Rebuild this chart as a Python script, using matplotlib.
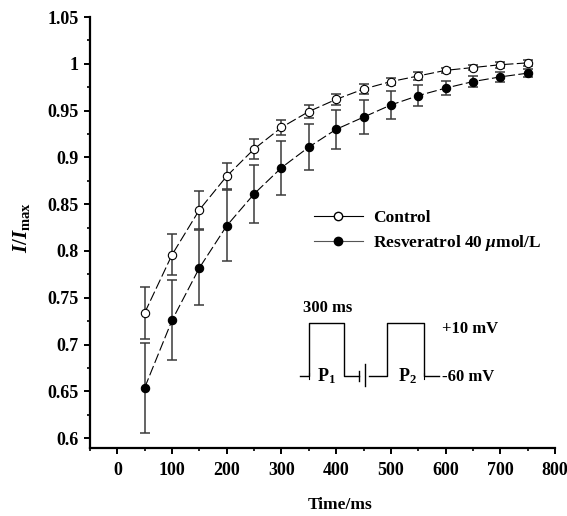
import matplotlib
matplotlib.use("Agg")
import matplotlib.pyplot as plt
from matplotlib.ticker import MultipleLocator

time_ms = [50, 100, 150, 200, 250, 300, 350, 400, 450, 500, 550, 600, 650, 700, 750]
control = [0.734, 0.796, 0.844, 0.880, 0.909, 0.932, 0.949, 0.962, 0.973, 0.981, 0.987, 0.993, 0.996, 0.999, 1.001]
control_err = [0.028, 0.022, 0.020, 0.014, 0.011, 0.008, 0.007, 0.006, 0.005, 0.004, 0.004, 0.003, 0.003, 0.003, 0.003]
resv = [0.654, 0.726, 0.782, 0.827, 0.861, 0.889, 0.911, 0.930, 0.943, 0.956, 0.966, 0.974, 0.981, 0.986, 0.990]
resv_err = [0.048, 0.043, 0.040, 0.038, 0.031, 0.029, 0.025, 0.021, 0.018, 0.015, 0.011, 0.0075, 0.006, 0.005, 0.004]
xticks = [0, 100, 200, 300, 400, 500, 600, 700, 800]
yticks = [0.6, 0.65, 0.7, 0.75, 0.8, 0.85, 0.9, 0.95, 1.0, 1.05]
ytick_labels = ["0.6", "0.65", "0.7", "0.75", "0.8", "0.85", "0.9", "0.95", "1", "1.05"]

plt.rcParams['font.family'] = ['Liberation Serif', 'DejaVu Serif']
plt.rcParams['font.weight'] = 'bold'
plt.rcParams['mathtext.fontset'] = 'custom'
plt.rcParams['mathtext.rm'] = 'Liberation Serif:bold'
plt.rcParams['mathtext.it'] = 'Liberation Serif:bold:italic'

W, H = 567, 516
fig = plt.figure(figsize=(W / 100, H / 100), dpi=100)
ax = fig.add_axes([90 / W, 1 - 448 / H, 465 / W, 431 / H])

ax.errorbar(time_ms, control, yerr=control_err, fmt='none', ecolor='#3a3a3a',
            elinewidth=1.1, capsize=3.5, capthick=1.1, zorder=2)
ax.errorbar(time_ms, resv, yerr=resv_err, fmt='none', ecolor='#3a3a3a',
            elinewidth=1.1, capsize=3.5, capthick=1.1, zorder=2)
ax.plot(time_ms, control, color='black', lw=0.8, dashes=(9, 3), zorder=3)
ax.plot(time_ms, resv, color='black', lw=0.8, dashes=(9, 3), zorder=3)
ax.plot(time_ms, control, 'o', ls='none', mfc='white', mec='black', mew=0.8, ms=6, zorder=4)
ax.plot(time_ms, resv, 'o', ls='none', mfc='black', mec='black', mew=0.8, ms=6, zorder=4)

# legend (solid lines)
h1, = ax.plot([], [], '-o', color='black', lw=0.8, mfc='white', mec='black', ms=6)
h2, = ax.plot([], [], '-o', color='#555555', lw=0.8, mfc='black', mec='black', ms=6)
ax.legend([h1, h2], ['Control', 'Resveratrol 40 $\\mu$mol/L'], frameon=False,
          loc='upper left', bbox_to_anchor=(314 / W, 1 - 210 / H),
          bbox_transform=fig.transFigure, handlelength=2.8, handletextpad=0.6,
          labelspacing=0.4, prop={'family': 'Liberation Serif', 'weight': 'bold', 'size': 12.5},
          borderaxespad=0, borderpad=0)

ax.set_xlim(-50, 800)
ax.set_ylim(0.5895, 1.05)
ax.set_xticks(xticks)
ax.set_yticks(yticks)
ax.set_yticklabels(ytick_labels)
ax.xaxis.set_minor_locator(MultipleLocator(50))
ax.yaxis.set_minor_locator(MultipleLocator(0.025))
for s in ['top', 'right']:
    ax.spines[s].set_visible(False)
for s in ['left', 'bottom']:
    ax.spines[s].set_linewidth(1.6)
ax.tick_params(which='major', direction='out', length=4, width=1.4, labelsize=13)
ax.tick_params(which='minor', direction='out', length=2.5, width=1.2)
ax.tick_params(axis='x', pad=6)
ax.tick_params(axis='y', pad=4)
for lab in ax.get_xticklabels() + ax.get_yticklabels():
    lab.set_fontweight('bold')

ax.set_xlabel('Time/ms', fontsize=12.5, fontweight='bold')
ax.xaxis.set_label_coords((340 - 90) / 465, -(505 - 448) / 431)
ax.xaxis.label.set_va('center')
fig.text(22 / W, 1 - 228 / H, '$I/I_{\\mathrm{max}}$', rotation=90, ha='center', va='center',
         fontsize=15)

# inset: pulse protocol drawn in figure pixel space
def P(px, py):
    return (px / W, 1 - py / H)

def seg(pts, lw=1.0):
    xs = [P(*p)[0] for p in pts]
    ys = [P(*p)[1] for p in pts]
    fig.add_artist(plt.Line2D(xs, ys, color='black', lw=lw, transform=fig.transFigure))

base, top = 376, 323
seg([(300, base), (309, base), (309, top), (344, top), (344, base), (359, base)])
seg([(359, base - 5), (359, base + 5)])
seg([(365, base - 12), (365, base + 10)])
seg([(369, base), (387, base), (387, top), (424, top), (424, base), (439, base)])
seg([(309, base - 3), (309, base + 3)], lw=0.8)
seg([(424, base - 3), (424, base + 3)], lw=0.8)

fig.text(*P(328, 308), '300 ms', ha='center', va='center', fontsize=12, fontweight='bold')
fig.text(*P(326, 376), 'P$_1$', ha='center', va='center', fontsize=13, fontweight='bold')
fig.text(*P(407, 376), 'P$_2$', ha='center', va='center', fontsize=13, fontweight='bold')
fig.text(*P(442, 329), '+10 mV', ha='left', va='center', fontsize=12, fontweight='bold')
fig.text(*P(442, 377), '-60 mV', ha='left', va='center', fontsize=12, fontweight='bold')

fig.savefig('out.png', dpi=100)
